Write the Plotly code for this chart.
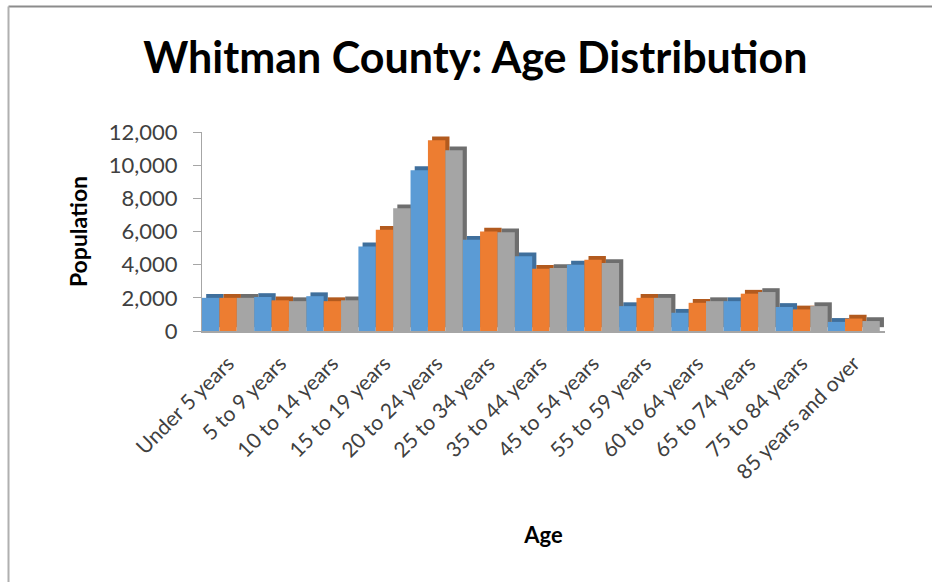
import plotly.graph_objects as go

# Age groups and population counts for the three series
categories = [
    "Under 5 years", "5 to 9 years", "10 to 14 years", "15 to 19 years",
    "20 to 24 years", "25 to 34 years", "35 to 44 years", "45 to 54 years",
    "55 to 59 years", "60 to 64 years", "65 to 74 years", "75 to 84 years",
    "85 years and over",
]
series_blue = [2000, 2050, 2100, 5100, 9700, 5500, 4500, 4000, 1500, 1100, 1800, 1450, 550]
series_orange = [2000, 1850, 1800, 6100, 11500, 6000, 3750, 4300, 2000, 1700, 2250, 1300, 750]
series_gray = [2000, 1800, 1850, 7400, 10900, 5950, 3800, 4100, 2000, 1800, 2350, 1500, 600]

y_ticks = [0, 2000, 4000, 6000, 8000, 10000, 12000]
y_ticktext = [f"{v:,}" for v in y_ticks]

FONT = "Lato, 'Open Sans', sans-serif"
x = list(range(len(categories)))
w = 1 / 3
series = [
    (series_blue, "#5B9BD5", "#3F6F9C"),
    (series_orange, "#ED7D31", "#B25A1E"),
    (series_gray, "#A5A5A5", "#6E6E6E"),
]

fig = go.Figure()

# Depth faces: darker copies shifted back-right and up, drawn first
depth_dx = 0.08
depth_dy = 230
for i, (vals, face, side) in enumerate(series):
    fig.add_trace(go.Bar(
        x=x, y=vals, base=depth_dy, width=w, offset=-0.5 + i * w + depth_dx,
        marker=dict(color=side, line=dict(width=0)), showlegend=False,
        hoverinfo="skip",
    ))

# Front faces
for i, (vals, face, side) in enumerate(series):
    fig.add_trace(go.Bar(
        x=x, y=vals, width=w, offset=-0.5 + i * w,
        marker=dict(color=face, line=dict(width=0)), showlegend=False,
    ))

L, R, T, B = 202, 47, 132, 251
PW, PH = 932 - L - R, 582 - T - B

fig.update_layout(
    width=932, height=582,
    barmode="overlay",
    paper_bgcolor="white", plot_bgcolor="white",
    margin=dict(l=L, r=R, t=T, b=B),
    font=dict(family=FONT, color="#404040"),
    title=dict(
        text="<b>Whitman County: Age Distribution</b>",
        x=0.51, xanchor="center", y=0.9, yanchor="middle",
        font=dict(family=FONT, size=43, color="#000000"),
    ),
    xaxis=dict(
        range=[-0.5, len(categories) - 0.5 + 0.1],
        tickmode="array", tickvals=x, ticktext=categories,
        tickangle=-45, tickfont=dict(size=21, color="#404040"),
        ticklabelstandoff=10,
        showgrid=False, zeroline=False,
        showline=True, linecolor="#A6A6A6", linewidth=2,
        ticks="",
        title=dict(text="<b>Age</b>", font=dict(size=22, color="#000000"), standoff=45),
    ),
    yaxis=dict(
        range=[0, 12000],
        tickmode="array", tickvals=y_ticks, ticktext=y_ticktext,
        tickfont=dict(size=22, color="#404040"),
        ticklabelstandoff=11,
        showgrid=False, zeroline=False,
        showline=True, linecolor="#A6A6A6", linewidth=1,
        ticks="outside", ticklen=8, tickcolor="#A6A6A6",
        title=dict(text="<b>Population</b>", font=dict(size=23, color="#000000"), standoff=14),
    ),
)

# Chart frame along the top and left edges
top_y = (582 - B - 6.5) / PH
left_x = (8.5 - L) / PW
fig.add_shape(type="line", xref="paper", yref="paper",
              x0=left_x, x1=(932 - L) / PW, y0=top_y, y1=top_y,
              line=dict(color="#8C8C8C", width=2))
fig.add_shape(type="line", xref="paper", yref="paper",
              x0=left_x, x1=left_x, y0=-B / PH, y1=top_y,
              line=dict(color="#B0B0B0", width=2))

fig.write_html("out.html")
